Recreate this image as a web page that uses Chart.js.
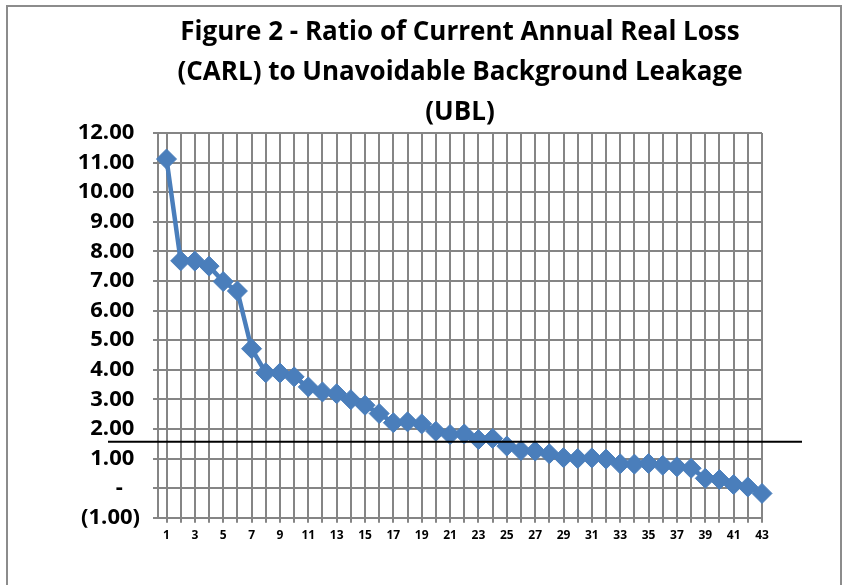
<!DOCTYPE html>
<html>
<head>
<meta charset="utf-8">
<script src="https://cdn.jsdelivr.net/npm/chart.js@4.4.1/dist/chart.umd.min.js"></script>
<style>
  html, body { margin: 0; padding: 0; background: #ffffff; }
  #wrap { width: 847px; height: 585px; }
</style>
</head>
<body>
<div id="wrap"><canvas id="c" width="847" height="585"></canvas></div>
<script>
// ---- data ----
const titleLines = [
  "Figure 2 - Ratio of Current Annual Real Loss",
  "(CARL) to Unavoidable Background Leakage",
  "(UBL)"
];
const categories = [1,2,3,4,5,6,7,8,9,10,11,12,13,14,15,16,17,18,19,20,21,22,23,24,25,26,27,28,29,30,31,32,33,34,35,36,37,38,39,40,41,42,43];
const ratioValues = [11.12, 7.68, 7.67, 7.50, 6.98, 6.66, 4.71, 3.90, 3.89, 3.76,
                     3.42, 3.25, 3.19, 2.99, 2.80, 2.52, 2.21, 2.24, 2.17, 1.92,
                     1.81, 1.83, 1.64, 1.68, 1.42, 1.27, 1.25, 1.16, 1.03, 1.00,
                     1.02, 0.98, 0.82, 0.81, 0.83, 0.77, 0.72, 0.67, 0.33, 0.29,
                     0.12, 0.04, -0.18];
const referenceValue = 1.57;
const yTickValues = [-1,0,1,2,3,4,5,6,7,8,9,10,11,12];

function yLabel(v) {
  if (v === 0) return '-   ';
  if (v < 0) return '(' + Math.abs(v).toFixed(2) + ')';
  return v.toFixed(2) + ' ';
}

const points = categories.map((c, i) => ({ x: c, y: ratioValues[i] }));

const framePlugin = {
  id: 'frame',
  beforeDraw(chart) {
    const ctx = chart.ctx;
    ctx.save();
    ctx.fillStyle = '#ffffff';
    ctx.fillRect(0, 0, chart.width, chart.height);
    ctx.strokeStyle = '#8c8c8c';
    ctx.lineWidth = 2;
    ctx.strokeRect(7, 6, chart.width - 13, chart.height + 20);
    ctx.restore();
  }
};

const refLinePlugin = {
  id: 'refLine',
  afterDatasetsDraw(chart) {
    const ctx = chart.ctx;
    const y = chart.scales.y.getPixelForValue(referenceValue);
    const a = chart.chartArea;
    ctx.save();
    ctx.strokeStyle = '#000000';
    ctx.lineWidth = 2;
    ctx.beginPath();
    ctx.moveTo(a.left - 50, y);
    ctx.lineTo(a.right + 40, y);
    ctx.stroke();
    ctx.restore();
  }
};

const gridColor = '#858585';

new Chart(document.getElementById('c'), {
  type: 'line',
  data: {
    datasets: [{
      data: points,
      borderColor: '#4a7ebb',
      backgroundColor: '#4a7ebb',
      borderWidth: 4.5,
      pointStyle: 'rectRot',
      pointRadius: 10,
      pointBackgroundColor: '#4a7ebb',
      pointBorderColor: '#4a7ebb',
      pointBorderWidth: 1,
      tension: 0,
      clip: false
    }]
  },
  options: {
    responsive: false,
    devicePixelRatio: 1,
    animation: false,
    layout: { padding: { left: 0, right: 85, top: 0, bottom: 0 } },
    plugins: {
      legend: { display: false },
      tooltip: { enabled: false },
      title: {
        display: true,
        text: titleLines,
        fullSize: false,
        color: '#000000',
        font: { family: 'Open Sans', weight: 'bold', size: 26, lineHeight: 40 / 26 },
        padding: { top: 13, bottom: 0 }
      }
    },
    scales: {
      x: {
        type: 'linear',
        min: 0.4,
        max: 43,
        afterBuildTicks(s) { s.ticks = categories.map(v => ({ value: v })); },
        afterFit(s) { s.height = 67.3; },
        grid: { color: gridColor, lineWidth: 2, tickLength: 5, drawTicks: true },
        border: { color: gridColor, width: 2 },
        ticks: {
          autoSkip: false,
          maxRotation: 0,
          padding: 6,
          color: '#000000',
          font: { family: 'Open Sans', weight: 'bold', size: 12 },
          callback(v) { return (v % 2 === 1) ? String(v) : ''; }
        }
      },
      y: {
        min: -1,
        max: 12,
        afterBuildTicks(s) { s.ticks = yTickValues.map(v => ({ value: v })); },
        afterFit(s) { s.width = 158; },
        grid: { color: gridColor, lineWidth: 2, tickLength: 5, drawTicks: true },
        border: { color: gridColor, width: 2 },
        ticks: {
          padding: 13,
          color: '#000000',
          font: { family: 'Open Sans', weight: 'bold', size: 22 },
          callback(v) { return yLabel(v); }
        }
      }
    }
  },
  plugins: [framePlugin, refLinePlugin]
});
</script>
</body>
</html>
